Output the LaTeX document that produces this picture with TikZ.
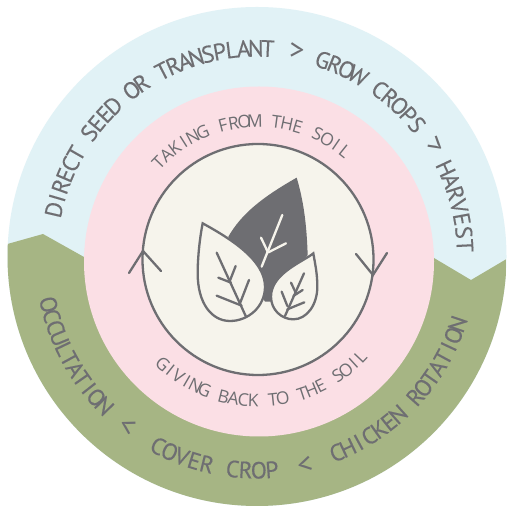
\documentclass[tikz,border=0pt]{standalone}
\usepackage{fontspec}
\setmainfont{Open Sans}
\newfontfamily\outerfont[FakeBold=0.2]{PT Sans}
\newfontfamily\sepfont{PT Sans}
\newfontfamily\innerfont{Open Sans}
\definecolor{skyc}{HTML}{E1F2F6}
\definecolor{pinkc}{HTML}{FBDFE5}
\definecolor{creamc}{HTML}{F6F4EC}
\definecolor{greenc}{HTML}{A6B584}
\definecolor{greyc}{HTML}{6E6E72}
\newcommand\outerfs{\outerfont\fontsize{23.5}{23.5}\selectfont}
\newcommand\innerfs{\innerfont\fontsize{17.5}{17.5}\selectfont}
\newcommand\wgap{\kern.16em\relax}
\tikzset{
  ringletter/.style={anchor=base,inner sep=0pt,text=greyc},
  outerlabel/.style={font=\sepfont\fontsize{30}{30}\selectfont,text=greyc,inner sep=0pt},
  linework/.style={draw=greyc,line width=2.3pt,line join=miter,line cap=round},
  lightvein/.style={draw=creamc,line width=2.3pt,line cap=round}
}
\newlength\letw \newlength\letb \newlength\lettotal \newcount\letn
% centre x, centre y, radius, start angle, end angle, font, letters
\newcommand\ringletters[7]{%
  \gdef\letprefix{}\global\letn=0
  \foreach \ch in {#7}{\xdef\letprefix{\letprefix\ch}\global\advance\letn by 1 }
  \settowidth{\lettotal}{#6\letprefix}
  \pgfmathsetmacro\arcspan{#5-#4}
  \pgfmathsetmacro\arcsign{ifthenelse(\arcspan<0,-1,1)}
  \pgfmathsetmacro\letgap{(abs(\arcspan)/57.29578*#3-\lettotal)/(\the\letn-1)}
  \gdef\letprefix{}\global\letn=0
  \foreach \ch in {#7}{%
    \settowidth{\letw}{#6\letprefix}%
    \settowidth{\letb}{#6\letprefix\ch}%
    \pgfmathsetmacro\letang{#4+\arcsign*(0.5*\letw+0.5*\letb+\the\letn*\letgap)/#3*57.29578}%
    \pgfmathsetmacro\letrot{\letang+\arcsign*90}%
    \node[ringletter,rotate=\letrot] at ({#1+#3*cos(\letang)},{#2+#3*sin(\letang)}) {#6\ch};
    \xdef\letprefix{\letprefix\ch}%
    \global\advance\letn by 1
  }%
}
\begin{document}
\begin{tikzpicture}[x=1pt,y=1pt]
\useasboundingbox (0,0) rectangle (506,508);
\fill[white] (0,0) rectangle (506,508);
% rings
\fill[skyc] (257,251.5) circle (249.5);
\begin{scope}
  \clip (257,251.5) circle (249.5);
  \fill[greenc] (-5,260.5) -- (43,274) -- (84,251) -- (434,250) -- (471,228) -- (515,254) -- (515,-5) -- (-5,-5) -- cycle;
\end{scope}
\fill[pinkc] (259,246.5) circle (175);
\fill[creamc] (258,248.5) circle (115.5);
\draw[greyc,line width=2.3pt] (258,248.5) circle (115.5);
% arrowheads on the inner circle
\coordinate (lt) at (143,257);
\coordinate (la) at (129,235);
\coordinate (lb) at (161,237);
\coordinate (rt) at (373,233);
\coordinate (ra) at (356,254);
\coordinate (rb) at (387,255);
\draw[linework] (la) -- (lt) -- (lb);
\draw[linework] (ra) -- (rt) -- (rb);
% leaves, in zoomed crop coordinates
\begin{scope}[shift={(130,368)},xscale=1/3,yscale=-1/3]
  \fill[greyc] (500,113) .. controls (400,170) and (335,220) .. (295,290) -- (405,485) -- (430,485) -- (533,345) .. controls (530,250) and (520,180) .. (500,113) -- cycle;
  \draw[lightvein] (457,225) -- (395,380);
  \draw[lightvein] (393,293) -- (413,335);
  \draw[lightvein] (468,310) -- (415,337);
  \filldraw[fill=creamc,linework] (218,250) .. controls (300,295) and (405,360) .. (405,440) .. controls (405,500) and (355,543) .. (300,543) .. controls (245,543) and (203,490) .. (203,400) .. controls (203,350) and (210,290) .. (218,250) -- cycle;
  \draw[linework] (260,338) -- (348,530);
  \draw[linework] (317,378) -- (299,424);
  \draw[linework] (265,413) -- (303,428);
  \draw[linework] (357,420) -- (330,490);
  \draw[linework] (260,467) -- (335,497);
  \filldraw[fill=creamc,linework] (550,340) .. controls (520,365) and (423,400) .. (423,470) .. controls (423,510) and (455,538) .. (490,538) .. controls (530,538) and (562,495) .. (562,440) .. controls (562,400) and (555,370) .. (550,340) -- cycle;
  \draw[linework] (522,400) -- (465,528);
  \draw[linework] (483,428) -- (498,460);
  \draw[linework] (518,450) -- (490,468);
  \draw[linework] (455,455) -- (472,498);
  \draw[linework] (523,487) -- (472,508);
\end{scope}
% curved texts: outer ring
\ringletters{257}{251.5}{200}{167}{87}{\outerfs}{D,I,R,E,C,T,\wgap,S,E,E,D,\wgap,O,R,\wgap,T,R,A,N,S,P,L,A,N,T}
\ringletters{257}{251.5}{199}{71.5}{39.5}{\outerfs}{G,R,O,W,\wgap,C,R,O,P,S}
\ringletters{257}{251.5}{200}{25}{3}{\outerfs}{H,A,R,V,E,S,T}
\ringletters{257}{251.5}{222}{193}{224.4}{\outerfs}{O,C,C,U,L,T,A,T,I,O,N}
\ringletters{257}{251.5}{222}{242.4}{274}{\outerfs}{C,O,V,E,R,\wgap,C,R,O,P}
\ringletters{257}{251.5}{220}{292.1}{341.4}{\outerfs}{C,H,I,C,K,E,N,\wgap,R,O,T,A,T,I,O,N}
% separators
\node[outerlabel,rotate=-3] (sa) at (297,457) {>};
\node[outerlabel,rotate=-40] (sb) at (436,362) {>};
\node[outerlabel,rotate=-30] (sc) at (127,81) {<};
\node[outerlabel,rotate=12] (sd) at (305,42) {<};
% curved texts: pink ring
\ringletters{258}{248.5}{132.5}{135.8}{51.2}{\innerfs}{T,A,K,I,N,G,\wgap,F,R,O,M,\wgap,T,H,E,\wgap,S,O,I,L}
\ringletters{258}{248.5}{147.5}{227.6}{316.5}{\innerfs}{G,I,V,I,N,G,\wgap,B,A,C,K,\wgap,T,O,\wgap,T,H,E,\wgap,S,O,I,L}
\end{tikzpicture}
\end{document}
